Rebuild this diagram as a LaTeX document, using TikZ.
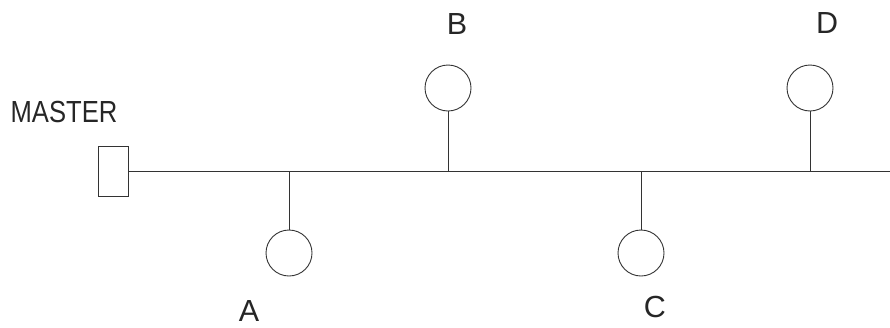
\documentclass[tikz,border=0pt]{standalone}
\usepackage{fontspec}
\setmainfont{Liberation Sans}
\usepackage{tikz}
\usetikzlibrary{positioning}

\begin{document}
\begin{tikzpicture}[x=1pt,y=-1pt,line width=1pt,
  station/.style={circle,draw=black!80,minimum size=46pt,inner sep=0pt,line width=.9pt},
  lbl/.style={font=\fontsize{30.5}{30}\selectfont,inner sep=0pt,text=black!85}]
\useasboundingbox (0,0) rectangle (890,327);
\node[draw=black!80,minimum width=30pt,minimum height=50pt,inner sep=0pt] (master) at (113,171) {};
\node[lbl] (mlbl) at (64,112) {\scalebox{0.84}[1]{MASTER}};
\coordinate (busend) at (890,171);
\coordinate (ja) at (289,171);\coordinate (jb) at (448,171);\coordinate (jc) at (641,171);\coordinate (jd) at (810,171);
\node[station] (a) at (289,253) {};
\node[station] (b) at (448,88) {};
\node[station] (c) at (641,253) {};
\node[station] (d) at (810,88) {};
\node[lbl] (la) at (249,311) {A};
\node[lbl] (lb) at (457,24) {B};
\node[lbl] (lc) at (655,307) {C};
\node[lbl] (ld) at (827,23) {D};
\draw[black!80] (master)--(busend);\draw[black!80] (ja)--(a);\draw[black!80] (jb)--(b);\draw[black!80] (jc)--(c);\draw[black!80] (jd)--(d);
\end{tikzpicture}
\end{document}
